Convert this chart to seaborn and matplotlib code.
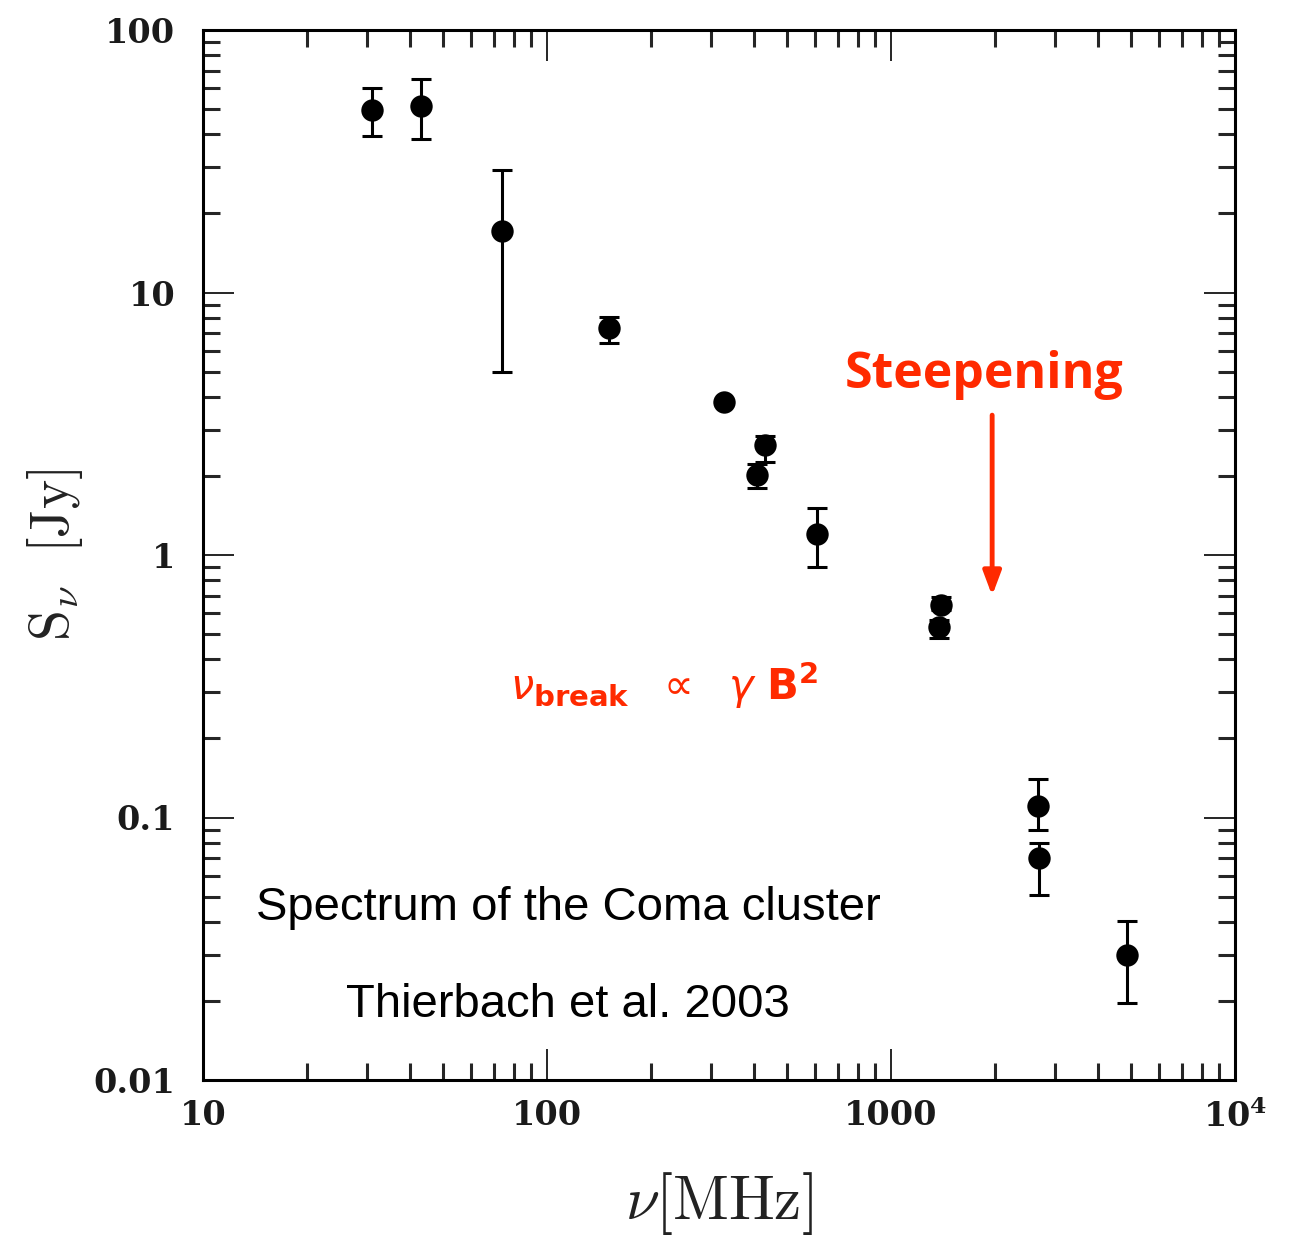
import numpy as np
import pandas as pd
import matplotlib
matplotlib.use("Agg")
import matplotlib.pyplot as plt
from matplotlib.ticker import LogLocator, FixedLocator, FixedFormatter, NullFormatter
import seaborn as sns

# Radio spectrum of the Coma cluster halo
freq_mhz = [30.9, 43.0, 73.8, 151.0, 326.0, 408.0, 430.0, 608.5, 1380.0, 1400.0, 2675.0, 2700.0, 4850.0]
flux_jy = [49.6, 51.5, 17.2, 7.3, 3.84, 2.02, 2.62, 1.20, 0.533, 0.645, 0.111, 0.070, 0.030]
err_low = [10.2, 13.0, 12.2, 0.86, 0.0, 0.22, 0.35, 0.30, 0.05, 0.03, 0.021, 0.0195, 0.0103]
err_high = [10.5, 13.6, 12.1, 0.79, 0.0, 0.20, 0.22, 0.31, 0.03, 0.045, 0.029, 0.010, 0.0105]

x_ticks = [10, 100, 1000, 10000]
x_tick_labels = ["10", "100", "1000", r"$\mathbf{10^{4}}$"]
y_ticks = [0.01, 0.1, 1, 10, 100]
y_tick_labels = ["0.01", "0.1", "1", "10", "100"]

df = pd.DataFrame({"freq": freq_mhz, "flux": flux_jy})

sns.set_theme(style="ticks")
plt.rcParams["font.family"] = ["DejaVu Serif", "DejaVu Sans"]
plt.rcParams["mathtext.fontset"] = "dejavuserif"

W, H = 1295, 1235
fig = plt.figure(figsize=(W / 100, H / 100), dpi=100)
ax = fig.add_axes([203 / W, 1 - 1080 / H, (1235 - 203) / W, (1080 - 30) / H])

ax.errorbar(freq_mhz, flux_jy, yerr=[err_low, err_high], fmt="none",
            ecolor="black", elinewidth=2.2, capsize=7.5, capthick=2.2, zorder=2)
sns.scatterplot(data=df, x="freq", y="flux", ax=ax, s=260, color="black",
                edgecolor="black", linewidth=0, zorder=3, legend=False)

ax.set_xscale("log")
ax.set_yscale("log")
ax.set_xlim(10, 10000)
ax.set_ylim(0.01, 100)

ax.xaxis.set_major_locator(FixedLocator(x_ticks))
ax.xaxis.set_major_formatter(FixedFormatter(x_tick_labels))
ax.yaxis.set_major_locator(FixedLocator(y_ticks))
ax.yaxis.set_major_formatter(FixedFormatter(y_tick_labels))
for axis in (ax.xaxis, ax.yaxis):
    axis.set_minor_locator(LogLocator(base=10, subs=np.arange(2, 10), numticks=20))
    axis.set_minor_formatter(NullFormatter())

ax.tick_params(which="major", direction="in", length=22, width=1.2,
               top=True, right=True, labelsize=24, colors="black")
ax.tick_params(which="minor", direction="in", length=12, width=2.2,
               top=True, right=True)
ax.tick_params(axis="y", which="major", pad=20)
ax.tick_params(axis="x", which="major", pad=14)
for lab in ax.get_xticklabels() + ax.get_yticklabels():
    lab.set_fontweight("bold")
    lab.set_color("#1a1a1a")
for sp in ax.spines.values():
    sp.set_linewidth(2.2)
    sp.set_color("black")

ax.set_xlabel(r"$\nu[\mathrm{MHz}]$", fontsize=44, math_fontfamily="cm", labelpad=26, color="#222222")
ax.set_ylabel(r"$\mathrm{S}_{\nu}\ \ [\mathrm{Jy}]$", fontsize=40, math_fontfamily="cm", labelpad=6, color="#222222")

red = "#ff2a00"
ax.text(1866, 4.85, "Steepening", color=red, fontsize=36, fontweight="bold",
        family="Open Sans", ha="center", va="center")
ax.annotate("", xy=(1968, 0.70), xytext=(1968, 3.41),
            arrowprops=dict(arrowstyle="-|>,head_length=1.2,head_width=0.45",
                            color=red, lw=3.5, shrinkA=0, shrinkB=0))
ax.text(0.297, 0.376, r"$\nu_{\mathbf{break}}\ \ \propto\ \ \gamma\ \mathbf{B}^{\mathbf{2}}$",
        transform=ax.transAxes, color=red, fontsize=30, math_fontfamily="dejavusans",
        ha="left", va="center")

ax.text(0.354, 0.164, "Spectrum of the Coma cluster", transform=ax.transAxes,
        fontsize=34, family="Liberation Sans", ha="center", va="center", color="black")
ax.text(0.354, 0.071, "Thierbach et al. 2003", transform=ax.transAxes,
        fontsize=34, family="Liberation Sans", ha="center", va="center", color="black")

fig.savefig("out.png", dpi=100, facecolor="white")
